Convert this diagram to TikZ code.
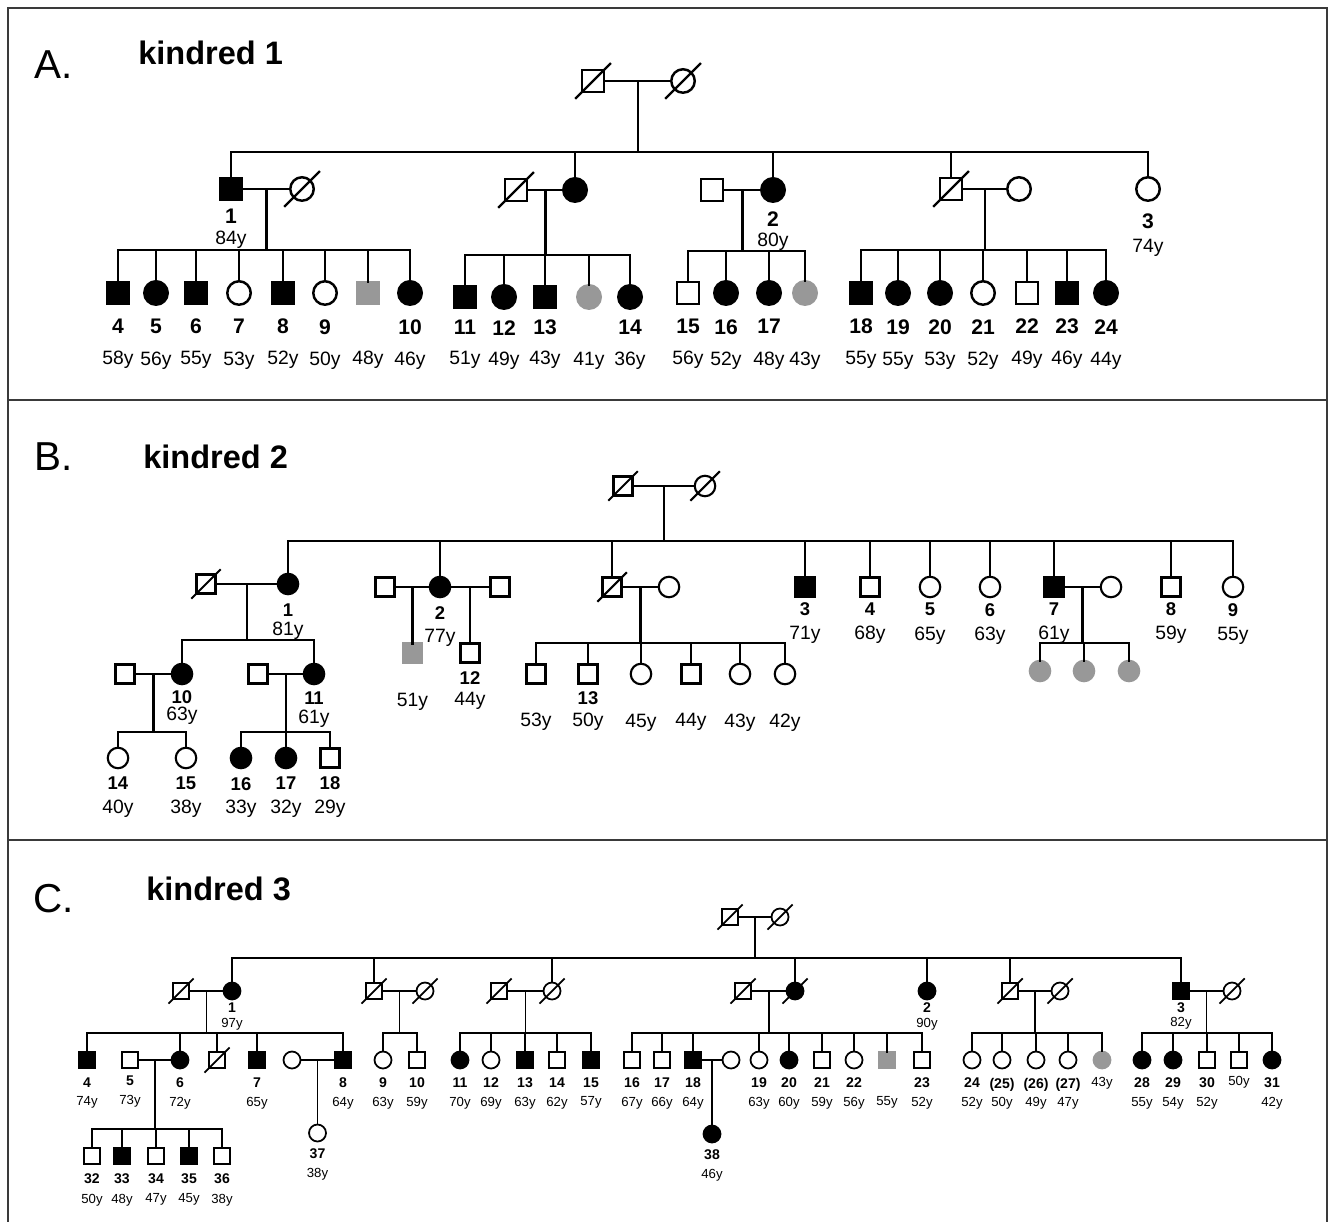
\documentclass[tikz,border=0pt]{standalone}
\usepackage{fontspec}
\setmainfont{Liberation Sans}
\usetikzlibrary{calc}
\definecolor{carrier}{HTML}{989898}
\definecolor{framegray}{HTML}{3A3A3A}
\newcommand{\sqsize}{0.44cm}
\newcommand{\cisize}{0.47cm}
\newcommand{\slen}{17}
\newcommand{\deceased}[1]{\draw ([shift={(-\slen,\slen)}]#1.center) -- ([shift={(\slen,-\slen)}]#1.center);}

\begin{document}
\begin{tikzpicture}[x=0.02cm, y=-0.02cm, line cap=rect,
    person/.style={draw, inner sep=0pt, outer sep=0pt},
    mu/.style={person, rectangle, minimum size=\sqsize},
    ma/.style={mu, fill=black},
    mg/.style={mu, fill=carrier, draw=carrier},
    fu/.style={person, circle, minimum size=\cisize},
    fa/.style={fu, fill=black},
    fg/.style={fu, fill=carrier, draw=carrier},
    letter/.style={font=\fontsize{23}{23}\selectfont, inner sep=0pt, anchor=west},
    title/.style={font=\bfseries\fontsize{18.5}{19}\selectfont, inner sep=0pt, anchor=west},
    numA/.style={font=\bfseries\fontsize{12}{12}\selectfont, inner sep=0pt, label distance=0.27cm},
    ageA/.style={font=\fontsize{11}{11}\selectfont, inner sep=0pt, label distance=0.92cm},
    numB/.style={font=\bfseries\fontsize{10.5}{11}\selectfont, inner sep=0pt, label distance=0.1cm},
    ageB/.style={font=\fontsize{11}{11}\selectfont, inner sep=0pt, label distance=0.57cm},
    numC/.style={font=\bfseries\fontsize{8}{8}\selectfont, inner sep=0pt, label distance=0.17cm},
    ageC/.style={font=\fontsize{7.5}{8}\selectfont, inner sep=0pt, label distance=0.56cm},
    frame/.style={draw=framegray, line width=1.4pt}]
  \useasboundingbox (0,0) rectangle (1331,1222);
  \draw[frame] (8,1222) -- (8,8) -- (1327,8) -- (1327,1222);
  \draw[frame] (8,400) -- (1327,400);
  \draw[frame] (8,840) -- (1327,840);

  % A. kindred 1
  \node[letter] (pA) at (34,65) {A.};
  \node[title] (tA) at (138,53) {kindred 1};
  \begin{scope}[line width=1.4pt]
    \node[mu] (Am0) at (593,81) {};
    \node[fu] (Af0) at (683,81) {};
    \node[ma, label={[numA, label distance=0.15cm]below:1}, label={[ageA, label distance=0.6cm]below:84y}] (A1) at (231,189) {};
    \node[fu] (A1w) at (302,189) {};
    \node[mu] (A2h) at (516,190) {};
    \node[fa] (A2s) at (575,190) {};
    \node[mu] (A2x) at (712,190) {};
    \node[fa, label={[numA, label distance=0.17cm]below:2}, label={[ageA, label distance=0.6cm]below:80y}] (A2) at (773,190) {};
    \node[mu] (A4h) at (951,189) {};
    \node[fu] (A4w) at (1019,189) {};
    \node[fu, label={[numA, label distance=0.23cm]below:3}, label={[ageA, label distance=0.74cm]below:74y}] (A3) at (1148,189) {};
    \foreach \n in {Am0, Af0, A1w, A2h, A4h} {\deceased{\n}}
    \foreach \p/\q/\m in {Am0/Af0/Ac0, A1/A1w/Ac1, A2h/A2s/Ac2, A2x/A2/Ac3, A4h/A4w/Ac4} {
      \draw (\p) -- (\q);
      \coordinate (\m) at ($(\p)!0.5!(\q)$);
    }
    \coordinate (As0) at (0,152);
    \draw (Ac0) -- (Ac0 |- As0);
    \draw (A1 |- As0) -- (A3 |- As0);
    \foreach \n in {A1, A2s, A2, A4h, A3} {\draw (\n) -- (\n |- As0);}
    % sibships
    \coordinate (As1) at (0,250);
    \draw (Ac1) -- (Ac1 |- As1);
    \foreach \x/\st/\i/\num/\age in {118/ma/4/4/58y, 156/fa/5/5/56y, 196/ma/6/6/55y, 239/fu/7/7/53y, 283/ma/8/8/52y, 325/fu/9/9/50y, 368/mg/g1//48y, 410/fa/10/10/46y} {
      \node[\st, label={[numA]below:\num}, label={[ageA]below:\age}] (A\i) at (\x,293) {};
      \draw (A\i) -- (A\i |- As1);
    }
    \draw (A4 |- As1) -- (A10 |- As1);
    \coordinate (As2) at (0,255);
    \draw (Ac2) -- (Ac2 |- As2);
    \foreach \x/\st/\i/\num/\age in {465/ma/11/11/51y, 504/fa/12/12/49y, 545/ma/13/13/43y, 589/fg/g2//41y, 630/fa/14/14/36y} {
      \node[\st, label={[numA, label distance=0.21cm]below:\num}, label={[ageA, label distance=0.84cm]below:\age}] (A\i) at (\x,297) {};
      \draw (A\i) -- (A\i |- As2);
    }
    \draw (A11 |- As2) -- (A14 |- As2);
    \coordinate (As3) at (0,251);
    \draw (Ac3) -- (Ac3 |- As3);
    \foreach \x/\st/\i/\num/\age in {688/mu/15/15/56y, 726/fa/16/16/52y, 769/fa/17/17/48y, 805/fg/g3//43y} {
      \node[\st, label={[numA]below:\num}, label={[ageA]below:\age}] (A\i) at (\x,293) {};
      \draw (A\i) -- (A\i |- As3);
    }
    \draw (A15 |- As3) -- (Ag3 |- As3);
    \coordinate (As4) at (0,250);
    \draw (Ac4) -- (Ac4 |- As4);
    \foreach \x/\st/\i/\num/\age in {861/ma/18/18/55y, 898/fa/19/19/55y, 940/fa/20/20/53y, 983/fu/21/21/52y, 1027/mu/22/22/49y, 1067/ma/23/23/46y, 1106/fa/24/24/44y} {
      \node[\st, label={[numA]below:\num}, label={[ageA]below:\age}] (A\i) at (\x,293) {};
      \draw (A\i) -- (A\i |- As4);
    }
    \draw (A18 |- As4) -- (A24 |- As4);
  \end{scope}

  % B. kindred 2
  \node[letter] (pB) at (34,457) {B.};
  \node[title] (tB) at (143,457) {kindred 2};
  \begin{scope}[line width=1.2pt]
    \renewcommand{\sqsize}{0.38cm}\renewcommand{\cisize}{0.41cm}\renewcommand{\slen}{14}
    \node[mu] (Bm0) at (623,486) {};
    \node[fu] (Bf0) at (705,486) {};
    \node[mu] (B1h) at (206,584) {};
    \node[fa, label={[numB, label distance=0.18cm]below:1}, label={[ageB, label distance=0.53cm]below:81y}] (B1) at (288,584) {};
    \node[mu] (B2a) at (385,587) {};
    \node[fa, label={[numB, label distance=0.16cm]below:2}, label={[ageB, label distance=0.61cm]below:77y}] (B2) at (440,587) {};
    \node[mu] (B2b) at (500,587) {};
    \node[mu] (B3h) at (612,587) {};
    \node[fu] (B3w) at (669,587) {};
    \foreach \x/\st/\i/\age in {805/ma/3/71y, 870/mu/4/68y, 930/fu/5/65y, 990/fu/6/63y, 1054/ma/7/61y, 1171/mu/8/59y, 1233/fu/9/55y} {
      \node[\st, label={[numB]below:\i}, label={[ageB]below:\age}] (B\i) at (\x,587) {};
    }
    \node[fu] (B7w) at (1111,587) {};
    \foreach \n in {Bm0, Bf0, B1h, B3h} {\deceased{\n}}
    \foreach \p/\q/\m in {Bm0/Bf0/Bc0, B1h/B1/Bc1, B2a/B2/Bc2a, B2/B2b/Bc2b, B3h/B3w/Bc3, B7/B7w/Bc7} {
      \draw (\p) -- (\q);
      \coordinate (\m) at ($(\p)!0.5!(\q)$);
    }
    \coordinate (Bs0) at (0,541);
    \draw (Bc0) -- (Bc0 |- Bs0);
    \draw (B1 |- Bs0) -- (B9 |- Bs0);
    \foreach \n in {B1, B2, B3h, B3, B4, B5, B6, B7, B8, B9} {\draw (\n) -- (\n |- Bs0);}
    % children of 2
    \node[mg, label={[ageB, label distance=0.6cm]below:51y}] (B2c) at (412.5,653) {};
    \node[mu, label={[numB, label distance=0.16cm]below:12}, label={[ageB, label distance=0.58cm]below:44y}] (B12) at (470,653) {};
    \draw (Bc2a) -- (B2c);
    \draw (Bc2b) -- (B12);
    % children of 1
    \node[mu] (B10h) at (125,674) {};
    \node[fa, label={[numB]below:10}, label={[ageB, label distance=0.43cm]below:63y}] (B10) at (182,674) {};
    \node[mu] (B11h) at (258,674) {};
    \node[fa, label={[numB, label distance=0.14cm]below:11}, label={[ageB, label distance=0.49cm]below:61y}] (B11) at (314,674) {};
    \coordinate (Bs1) at (0,640);
    \draw (Bc1) -- (Bc1 |- Bs1);
    \draw (B10 |- Bs1) -- (B11 |- Bs1);
    \foreach \n in {B10, B11} {\draw (\n) -- (\n |- Bs1);}
    \foreach \p/\q/\m in {B10h/B10/Bc10, B11h/B11/Bc11} {
      \draw (\p) -- (\q);
      \coordinate (\m) at ($(\p)!0.5!(\q)$);
    }
    \coordinate (Bs10) at (0,732);
    \draw (Bc10) -- (Bc10 |- Bs10);
    \draw (Bc11) -- (Bc11 |- Bs10);
    \foreach \x/\st/\i/\age in {118/fu/14/40y, 186/fu/15/38y, 241/fa/16/33y, 286/fa/17/32y, 330/mu/18/29y} {
      \node[\st, label={[numB, label distance=0.16cm]below:\i}, label={[ageB, label distance=0.62cm]below:\age}] (B\i) at (\x,758) {};
      \draw (B\i) -- (B\i |- Bs10);
    }
    \draw (B14 |- Bs10) -- (B15 |- Bs10);
    \draw (B16 |- Bs10) -- (B18 |- Bs10);
    % children of the brother
    \coordinate (Bs3) at (0,643);
    \draw (Bc3) -- (Bc3 |- Bs3);
    \foreach \x/\st/\i/\num/\age in {536/mu/g1//53y, 588/mu/13/13/50y, 641/fu/g2//45y, 691/mu/g3//44y, 740/fu/g4//43y, 785/fu/g5//42y} {
      \node[\st, label={[numB, label distance=0.14cm]below:\num}, label={[ageB]below:\age}] (B\i) at (\x,674) {};
      \draw (B\i) -- (B\i |- Bs3);
    }
    \draw (Bg1 |- Bs3) -- (Bg5 |- Bs3);
    % children of 7
    \coordinate (Bs7) at (0,643);
    \draw (Bc7) -- (Bc7 |- Bs7);
    \foreach \x/\i in {1040/g6, 1084/g7, 1129/g8} {
      \node[fg] (B\i) at (\x,671) {};
      \draw (B\i) -- (B\i |- Bs7);
    }
    \draw (Bg6 |- Bs7) -- (Bg8 |- Bs7);
  \end{scope}

  % C. kindred 3
  \node[letter] (pC) at (33,899) {C.};
  \node[title] (tC) at (146,889) {kindred 3};
  \begin{scope}[line width=1pt]
    \renewcommand{\sqsize}{0.32cm}\renewcommand{\cisize}{0.34cm}\renewcommand{\slen}{12}
    \node[mu] (Cm0) at (730,917) {};
    \node[fu] (Cf0) at (780,917) {};
    \node[mu] (C1h) at (181,991) {};
    \node[fa, label={[numC, label distance=0.05cm]below:1}, label={[ageC, label distance=0.35cm]below:97y}] (C1) at (232,991) {};
    \node[mu] (Cbh) at (374,991) {};
    \node[fu] (Cbw) at (425,991) {};
    \node[mu] (Cch) at (499,991) {};
    \node[fu] (Ccs) at (552,991) {};
    \node[mu] (Cdh) at (743,991) {};
    \node[fa] (Cds) at (795,991) {};
    \node[fa, label={[numC, label distance=0.05cm]below:2}, label={[ageC, label distance=0.35cm]below:90y}] (C2) at (927,991) {};
    \node[mu] (Ceh) at (1010,991) {};
    \node[fu] (Cew) at (1060,991) {};
    \node[ma, label={[numC, label distance=0.05cm]below:3}, label={[ageC, label distance=0.35cm]below:82y}] (C3) at (1181,991) {};
    \node[fu] (C3w) at (1232,991) {};
    \foreach \n in {Cm0, Cf0, C1h, Cbh, Cbw, Cch, Ccs, Cdh, Cds, Ceh, Cew, C3w} {\deceased{\n}}
    \foreach \p/\q/\m in {Cm0/Cf0/Cc0, C1h/C1/Cc1, Cbh/Cbw/Ccb, Cch/Ccs/Ccc, Cdh/Cds/Ccd, Ceh/Cew/Cce, C3/C3w/Cc3} {
      \draw (\p) -- (\q);
      \coordinate (\m) at ($(\p)!0.5!(\q)$);
    }
    \coordinate (Cs0) at (0,958);
    \draw (Cc0) -- (Cc0 |- Cs0);
    \draw (C1 |- Cs0) -- (C3 |- Cs0);
    \foreach \n in {C1, Cbh, Ccs, Cds, C2, Ceh, C3} {\draw (\n) -- (\n |- Cs0);}
    \coordinate (Cs1) at (0,1033);
    \foreach \m in {Cc1, Ccb, Ccc, Ccd, Cce, Cc3} {\draw (\m) -- (\m |- Cs1);}
    % sibship of 1
    \foreach \x/\st/\i/\num/\age in {87/ma/4/4/74y, 180/fa/6/6/72y, 217/mu/d1//, 257/ma/7/7/65y, 343/ma/8/8/64y} {
      \node[\st, label={[numC]below:\num}, label={[ageC]below:\age}] (C\i) at (\x,1060) {};
      \draw (C\i) -- (C\i |- Cs1);
    }
    \deceased{Cd1}
    \draw (C4 |- Cs1) -- (C8 |- Cs1);
    \node[mu, label={[numC, label distance=0.14cm]below:5}, label={[ageC, label distance=0.52cm]below:73y}] (C5) at (130,1060) {};
    \node[fu] (C8w) at (292,1060) {};
    \foreach \p/\q/\m in {C5/C6/Cc6, C8w/C8/Cc8} {
      \draw (\p) -- (\q);
      \coordinate (\m) at ($(\p)!0.5!(\q)$);
    }
    \coordinate (Cs6) at (0,1129);
    \draw (Cc6) -- (Cc6 |- Cs6);
    \foreach \x/\st/\i/\age in {92/mu/32/50y, 122/ma/33/48y, 156/mu/34/47y, 189/ma/35/45y, 222/mu/36/38y} {
      \node[\st, label={[numC, label distance=0.18cm]below:\i}, label={[ageC, label distance=0.58cm]below:\age}] (C\i) at (\x,1156) {};
      \draw (C\i) -- (C\i |- Cs6);
    }
    \draw (C32 |- Cs6) -- (C36 |- Cs6);
    \node[fu, label={[numC, label distance=0.13cm]below:37}, label={[ageC, label distance=0.51cm]below:38y}] (C37) at (317.5,1133) {};
    \draw (Cc8) -- (C37);
    % sibship of b
    \foreach \x/\st/\i/\age in {383/fu/9/63y, 417/mu/10/59y} {
      \node[\st, label={[numC]below:\i}, label={[ageC]below:\age}] (C\i) at (\x,1060) {};
      \draw (C\i) -- (C\i |- Cs1);
    }
    \draw (C9 |- Cs1) -- (C10 |- Cs1);
    % sibship of c
    \foreach \x/\st/\i/\age in {460/fa/11/70y, 491/fu/12/69y, 525/ma/13/63y, 557/mu/14/62y, 591/ma/15/57y} {
      \node[\st, label={[numC]below:\i}, label={[ageC]below:\age}] (C\i) at (\x,1060) {};
      \draw (C\i) -- (C\i |- Cs1);
    }
    \draw (C11 |- Cs1) -- (C15 |- Cs1);
    % sibship of d
    \foreach \x/\st/\i/\num/\age in {632/mu/16/16/67y, 662/mu/17/17/66y, 693/ma/18/18/64y, 759/fu/19/19/63y, 789/fa/20/20/60y, 822/mu/21/21/59y, 854/fu/22/22/56y, 887/mg/g1//55y, 922/mu/23/23/52y} {
      \node[\st, label={[numC]below:\num}, label={[ageC]below:\age}] (C\i) at (\x,1060) {};
      \draw (C\i) -- (C\i |- Cs1);
    }
    \draw (C16 |- Cs1) -- (C23 |- Cs1);
    \node[fu] (C18w) at (731,1060) {};
    \draw (C18) -- (C18w);
    \coordinate (Cc18) at ($(C18)!0.5!(C18w)$);
    \node[fa, label={[numC, label distance=0.13cm]below:38}, label={[ageC, label distance=0.51cm]below:46y}] (C38) at (712,1134) {};
    \draw (Cc18) -- (C38);
    % sibship of e
    \foreach \x/\i/\num/\age in {972/24/24/52y, 1002/25/(25)/50y, 1036/26/(26)/49y, 1068/27/(27)/47y} {
      \node[fu, label={[numC]below:\num}, label={[ageC]below:\age}] (C\i) at (\x,1060) {};
      \draw (C\i) -- (C\i |- Cs1);
    }
    \node[fg, label={[ageC, label distance=0.15cm]below:43y}] (Cg2) at (1102,1060) {};
    \draw (Cg2) -- (Cg2 |- Cs1);
    \draw (C24 |- Cs1) -- (Cg2 |- Cs1);
    % sibship of 3
    \foreach \x/\st/\i/\age in {1142/fa/28/55y, 1173/fa/29/54y, 1207/mu/30/52y, 1272/fa/31/42y} {
      \node[\st, label={[numC]below:\i}, label={[ageC]below:\age}] (C\i) at (\x,1060) {};
      \draw (C\i) -- (C\i |- Cs1);
    }
    \node[mu, label={[ageC, label distance=0.15cm]below:50y}] (Cg3) at (1239,1060) {};
    \draw (Cg3) -- (Cg3 |- Cs1);
    \draw (C28 |- Cs1) -- (C31 |- Cs1);
  \end{scope}
\end{tikzpicture}
\end{document}
